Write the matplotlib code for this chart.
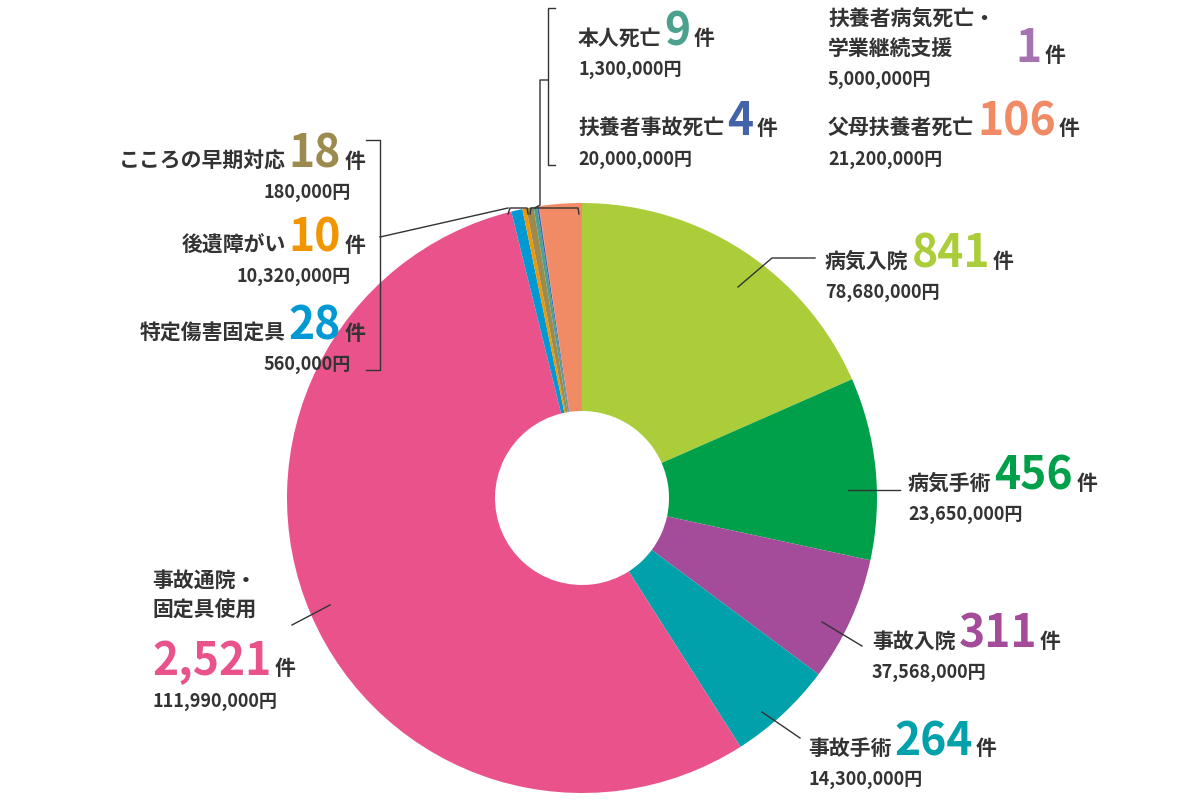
import matplotlib
matplotlib.use("Agg")
import matplotlib.pyplot as plt

# データ（時計回り、上から）
names = ["病気入院", "病気手術", "事故入院", "事故手術", "事故通院・固定具使用",
         "特定傷害固定具", "後遺障がい", "こころの早期対応", "本人死亡",
         "扶養者事故死亡", "扶養者病気死亡・学業継続支援", "父母扶養者死亡"]
counts = [841, 456, 311, 264, 2521, 28, 10, 18, 9, 4, 1, 106]
amounts = ["78,680,000円", "23,650,000円", "37,568,000円", "14,300,000円", "111,990,000円",
           "560,000円", "10,320,000円", "180,000円", "1,300,000円",
           "20,000,000円", "5,000,000円", "21,200,000円"]
colors = ["#abcd3a", "#00a04b", "#a44b99", "#00a1aa", "#e9528a",
          "#0099d3", "#f29600", "#9d8a4f", "#4ba08e", "#4262aa", "#a572b2", "#f08b66"]

FONT = "Noto Sans CJK JP"
H = 800

fig = plt.figure(figsize=(12, 8), dpi=100)
ax = fig.add_axes([0, 0, 1, 1])
ax.set_xlim(0, 1200)
ax.set_ylim(0, 800)
ax.set_aspect("equal")
ax.axis("off")

ax.pie(counts, colors=colors, startangle=90, counterclock=False,
       center=(582, H - 498), radius=295, frame=True,
       wedgeprops=dict(width=208, edgecolor="none"))
ax.set_xlim(0, 1200)
ax.set_ylim(0, 800)
ax.axis("off")

renderer = fig.canvas.get_renderer()


def put(x, y, parts, align="left"):
    # parts: (text, fontsize, color)
    objs = []
    for t, s, c in parts:
        objs.append(ax.text(0, 0, t, fontsize=s, color=c, family=FONT,
                            fontweight="bold", va="baseline", ha="left"))
    widths = [o.get_window_extent(renderer).width for o in objs]
    gap = 3
    total = sum(widths) + gap * (len(objs) - 1)
    cx = x - total if align == "right" else x
    for o, w in zip(objs, widths):
        o.set_position((cx, H - y))
        cx += w + gap


def label(i, x, y, align="left", pre=None, dy=30):
    c = colors[i]
    put(x, y, [(pre if pre else names[i], 15, "#333333"),
               (f"{counts[i]:,}", 32, c), ("件", 15, "#333333")], align)
    ax.text(x - 14 if align == "right" else x, H - (y + dy), amounts[i], fontsize=13,
            family=FONT, fontweight="bold", color="#333333",
            ha="right" if align == "right" else "left", va="baseline")


label(0, 825, 268)
label(1, 908, 490)
label(2, 872, 648)
label(3, 808, 755)
label(5, 365, 340, "right")
label(6, 365, 252, "right")
label(7, 365, 168, "right")
label(8, 578, 45)
label(9, 578, 135)
label(11, 828, 135)

# 扶養者病気死亡・学業継続支援
ax.text(828, H - 25, "扶養者病気死亡・", fontsize=15, family=FONT, fontweight="bold", color="#333333")
ax.text(828, H - 55, "学業継続支援", fontsize=15, family=FONT, fontweight="bold", color="#333333")
put(1015, 62, [(f"{counts[10]}", 32, colors[10]), ("件", 15, "#333333")])
ax.text(828, H - 85, amounts[10], fontsize=13, family=FONT, fontweight="bold", color="#333333")

# 事故通院・固定具使用
ax.text(152, H - 587, "事故通院・", fontsize=15, family=FONT, fontweight="bold", color="#333333")
ax.text(152, H - 617, "固定具使用", fontsize=15, family=FONT, fontweight="bold", color="#333333")
put(152, 675, [(f"{counts[4]:,}", 32, colors[4]), ("件", 15, "#333333")])
ax.text(152, H - 707, amounts[4], fontsize=13, family=FONT, fontweight="bold", color="#333333")

# 引き出し線
lk = dict(color="#333333", lw=1)
def seg(xs, ys):
    ax.plot(xs, [H - v for v in ys], **lk)

seg([738, 772, 815], [287, 258, 258])
seg([848, 900], [490, 490])
seg([822, 862], [622, 646])
seg([762, 800], [712, 738])
seg([330, 292], [605, 625])
# 左の括弧
seg([366, 380, 380, 366], [140, 140, 370, 370])
seg([380, 508], [237, 208])
seg([508, 510, 527, 528], [214, 208, 208, 214])
# 上の括弧
seg([555, 548, 548, 555], [8, 8, 165, 165])
seg([548, 540, 540, 535], [80, 80, 205, 208])
seg([530, 531, 578, 579], [214, 208, 208, 214])

fig.savefig("out.png", dpi=100)
